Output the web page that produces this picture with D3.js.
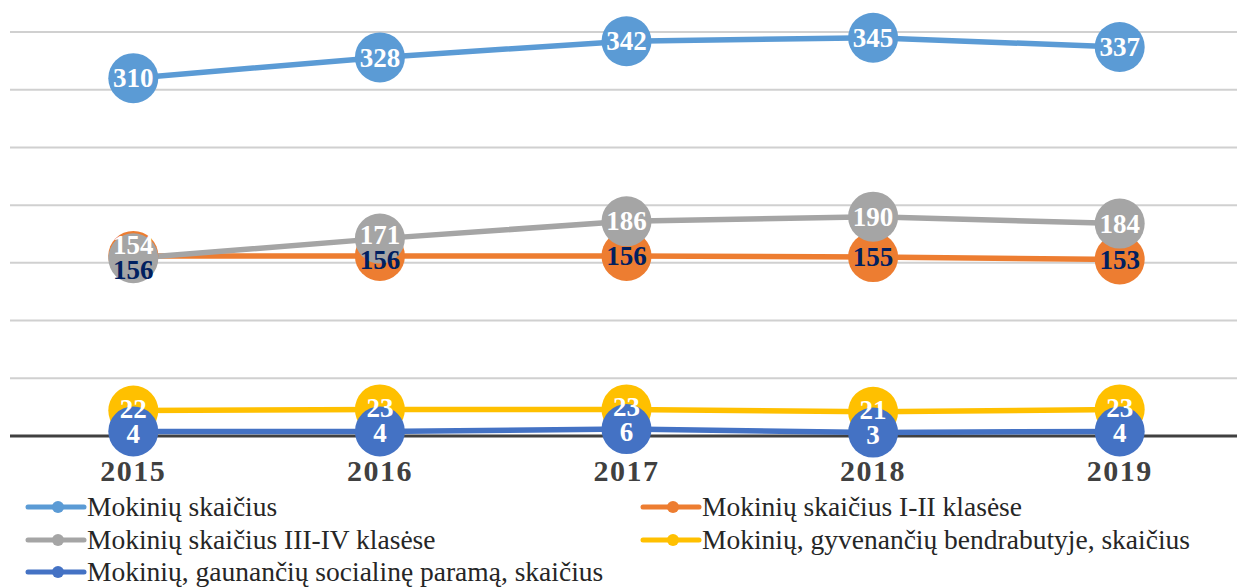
<!DOCTYPE html>
<html>
<head>
<meta charset="utf-8">
<script src="https://cdn.jsdelivr.net/npm/d3@7"></script>
<style>
  html, body { margin: 0; padding: 0; background: #fff; }
  svg { display: block; }
  text { font-family: "Liberation Serif", "Times New Roman", serif; }
</style>
</head>
<body>
<div id="chart"></div>
<script>
// data
var years = ["2015", "2016", "2017", "2018", "2019"];
var seriesNames = [
    "Mokinių skaičius",
    "Mokinių skaičius I-II klasėse",
    "Mokinių skaičius III-IV klasėse",
    "Mokinių, gyvenančių bendrabutyje, skaičius",
    "Mokinių, gaunančių socialinę paramą, skaičius"
];
var total     = [310, 328, 342, 345, 337];
var grades12  = [156, 156, 156, 155, 153];
var grades34  = [154, 171, 186, 190, 184];
var dormitory = [22, 23, 23, 21, 23];
var social    = [4, 4, 6, 3, 4];
var yTicks    = [0, 50, 100, 150, 200, 250, 300, 350];

var colors     = ["#5B9BD5", "#ED7D31", "#A5A5A5", "#FFC000", "#4472C4"];
var labelInk   = ["#ffffff", "#002060", "#ffffff", "#ffffff", "#ffffff"];

var series = [total, grades12, grades34, dormitory, social].map(function(values, i) {
    return { name: seriesNames[i], color: colors[i], ink: labelInk[i], values: values, mean: d3.mean(values) };
});

var width = 1237, height = 588;

var svg = d3.select("#chart").append("svg")
    .attr("width", width)
    .attr("height", height);

var x = d3.scaleBand()
    .domain(years)
    .range([10, 1243]);

var y = d3.scaleLinear()
    .domain([0, 350])
    .range([436, 32]);

var cx = function(year) { return x(year) + x.bandwidth() / 2; };

// gridlines
svg.append("g")
    .attr("class", "grid")
  .selectAll("line")
    .data(yTicks.filter(function(t) { return t > 0; }))
    .enter().append("line")
    .attr("x1", 10)
    .attr("x2", width)
    .attr("y1", function(d) { return y(d); })
    .attr("y2", function(d) { return y(d); })
    .attr("stroke", "#D0D0D0")
    .attr("stroke-width", 2);

// category axis
var xAxis = svg.append("g")
    .attr("transform", "translate(0," + y(0) + ")")
    .call(d3.axisBottom(x).tickSize(0).tickPadding(24));
xAxis.select(".domain")
    .attr("d", "M10,0H" + width)
    .attr("stroke", "#404040")
    .attr("stroke-width", 3);
xAxis.selectAll(".tick text")
    .attr("font-family", "Liberation Serif, Times New Roman, serif")
    .attr("font-weight", "bold")
    .attr("font-size", 30)
    .attr("letter-spacing", 1.5)
    .attr("fill", "#404040");

// lines
var line = d3.line()
    .x(function(d, i) { return cx(years[i]); })
    .y(function(d) { return y(d); });

svg.append("g")
    .attr("class", "lines")
  .selectAll("path")
    .data(series)
    .enter().append("path")
    .attr("d", function(s) { return line(s.values); })
    .attr("fill", "none")
    .attr("stroke", function(s) { return s.color; })
    .attr("stroke-width", 5.5)
    .attr("stroke-linejoin", "round");

// label bubbles
svg.append("g")
    .attr("class", "bubbles")
  .selectAll("g")
    .data(series)
    .enter().append("g")
  .selectAll("circle")
    .data(function(s) { return s.values.map(function(v, i) { return { s: s, v: v, i: i }; }); })
    .enter().append("circle")
    .attr("cx", function(d) { return cx(years[d.i]); })
    .attr("cy", function(d) { return y(d.v); })
    .attr("r", 25)
    .attr("fill", function(d) { return d.s.color; });

// label text, nudged apart when two labels of a year would collide
// (the series that runs higher overall keeps the upper slot)
var labels = [];
series.forEach(function(s) {
    s.values.forEach(function(v, i) {
        labels.push({ s: s, v: v, i: i, ty: y(v) });
    });
});
years.forEach(function(yr, i) {
    var col = labels.filter(function(l) { return l.i === i; })
        .sort(function(a, b) { return b.s.mean - a.s.mean; });
    for (var k = 1; k < col.length; k++) {
        var a = col[k - 1], b = col[k];
        if (Math.abs(b.ty - a.ty) < 25) {
            var mid = (a.ty + b.ty) / 2;
            a.ty = mid - 12.5;
            b.ty = mid + 12.5;
        }
    }
});

svg.append("g")
    .attr("class", "labels")
  .selectAll("text")
    .data(labels)
    .enter().append("text")
    .attr("x", function(d) { return cx(years[d.i]); })
    .attr("y", function(d) { return d.ty; })
    .attr("dy", "0.34em")
    .attr("text-anchor", "middle")
    .attr("font-weight", "bold")
    .attr("font-size", 27)
    .attr("fill", function(d) { return d.s.ink; })
    .text(function(d) { return d.v; });

// legend, two columns filled row by row
var legendCols = [28, 643];
var legendRows = [507, 540, 572];

var legend = svg.append("g")
    .attr("class", "legend")
  .selectAll("g")
    .data(series)
    .enter().append("g")
    .attr("transform", function(s, i) {
        return "translate(" + legendCols[i % 2] + "," + legendRows[Math.floor(i / 2)] + ")";
    });

legend.append("line")
    .attr("x1", 0)
    .attr("x2", 56)
    .attr("stroke", function(s) { return s.color; })
    .attr("stroke-width", 5)
    .attr("stroke-linecap", "round");

legend.append("circle")
    .attr("cx", 30)
    .attr("r", 6)
    .attr("fill", function(s) { return s.color; });

legend.append("text")
    .attr("x", 59)
    .attr("dy", "0.32em")
    .attr("font-size", 27.5)
    .attr("fill", "#262626")
    .text(function(s) { return s.name; });
</script>
</body>
</html>
